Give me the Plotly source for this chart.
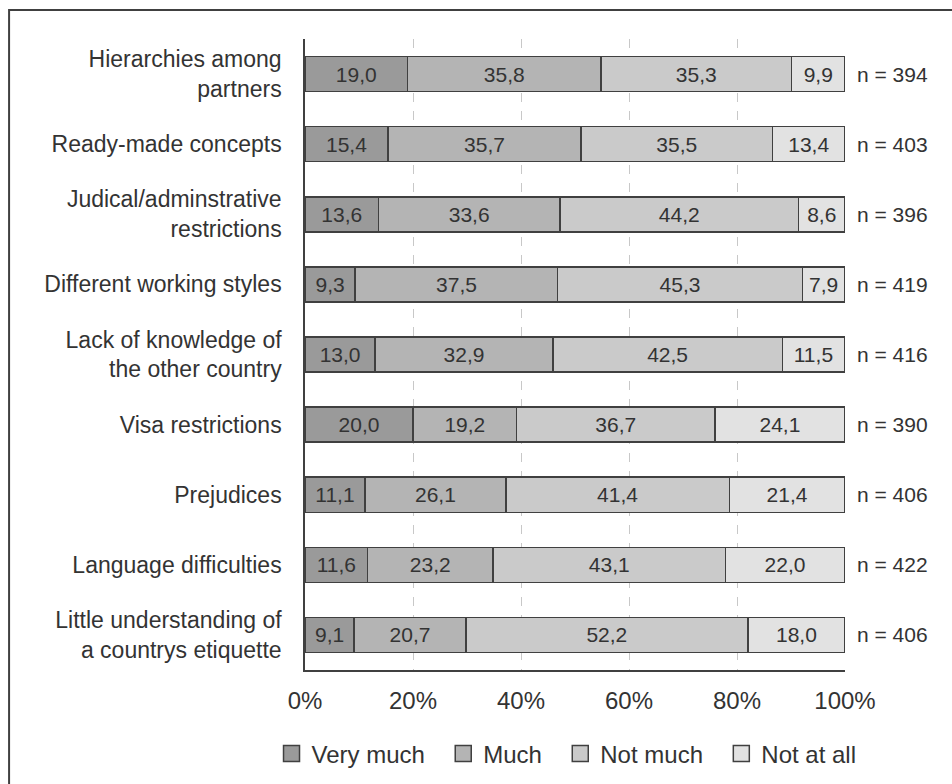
import plotly.graph_objects as go

# Survey items, listed top to bottom
categories = [
    "Hierarchies among<br>partners",
    "Ready-made concepts",
    "Judical/adminstrative<br>restrictions",
    "Different working styles",
    "Lack of knowledge of<br>the other country",
    "Visa restrictions",
    "Prejudices",
    "Language difficulties",
    "Little understanding of<br>a countrys etiquette",
]

# Share of answers (%) per response level
very_much = [19.0, 15.4, 13.6, 9.3, 13.0, 20.0, 11.1, 11.6, 9.1]
much = [35.8, 35.7, 33.6, 37.5, 32.9, 19.2, 26.1, 23.2, 20.7]
not_much = [35.3, 35.5, 44.2, 45.3, 42.5, 36.7, 41.4, 43.1, 52.2]
not_at_all = [9.9, 13.4, 8.6, 7.9, 11.5, 24.1, 21.4, 22.0, 18.0]

# Number of respondents per item
n_values = [394, 403, 396, 419, 416, 390, 406, 422, 406]

series_names = ["Very much", "Much", "Not much", "Not at all"]
series_values = [very_much, much, not_much, not_at_all]
series_colors = ["#9a9a9a", "#b4b4b4", "#cacaca", "#e2e2e2"]

tick_values = [0, 20, 40, 60, 80, 100]
tick_labels = ["0%", "20%", "40%", "60%", "80%", "100%"]

FONT = "Liberation Sans, Arial, sans-serif"
TEXT = "#333333"
EDGE = "#404040"
NBSP = "\u00a0"


def fmt(v):
    return f"{v:.1f}".replace(".", ",")


fig = go.Figure()

for name, vals, col in zip(series_names, series_values, series_colors):
    fig.add_trace(go.Bar(
        name=name,
        x=vals,
        y=categories,
        orientation="h",
        marker=dict(color=col, line=dict(color=EDGE, width=1.5)),
        text=[fmt(v) for v in vals],
        textposition="inside",
        insidetextanchor="middle",
        textangle=0,
        constraintext="none",
        textfont=dict(family=FONT, size=21, color=TEXT),
        width=0.5,
        showlegend=False,
        hoverinfo="skip",
    ))

# Legend entries with square swatches (extra spacing after all but the last)
for i, (name, col) in enumerate(zip(series_names, series_colors)):
    pad = NBSP * 2 if i < len(series_names) - 1 else ""
    fig.add_trace(go.Scatter(
        name=name + pad,
        x=[None],
        y=[None],
        mode="markers",
        marker=dict(symbol="square", size=16, color=col,
                    line=dict(color=EDGE, width=1.5)),
        showlegend=True,
    ))

# Respondent counts to the right of each bar
for cat, n in zip(categories, n_values):
    fig.add_annotation(
        x=1, xref="paper", y=cat, yref="y",
        text=f"n = {n}", showarrow=False,
        xanchor="left", xshift=10,
        font=dict(family=FONT, size=21, color=TEXT),
    )

# Outer frame
fig.add_shape(
    type="rect", xref="paper", yref="paper",
    x0=-0.548, x1=1.25, y0=-0.25, y1=1.046,
    line=dict(color=EDGE, width=2), fillcolor="rgba(0,0,0,0)",
    layer="below",
)

fig.update_layout(
    barmode="stack",
    width=952,
    height=784,
    margin=dict(l=305, r=107, t=39, b=114, autoexpand=False),
    paper_bgcolor="white",
    plot_bgcolor="white",
    font=dict(family=FONT, color=TEXT),
    legend=dict(
        orientation="h",
        x=-0.062, xanchor="left",
        y=-0.133, yanchor="middle",
        bgcolor="rgba(0,0,0,0)",
        font=dict(family=FONT, size=24, color=TEXT),
        itemwidth=30,
        traceorder="normal",
    ),
    xaxis=dict(
        range=[0, 100],
        tickvals=tick_values,
        ticktext=tick_labels,
        tickfont=dict(family=FONT, size=24, color=TEXT),
        showgrid=True,
        gridcolor="#c8c8c8",
        griddash="dash",
        gridwidth=1,
        showline=True,
        linecolor=EDGE,
        linewidth=1.5,
        zeroline=False,
        ticks="",
        ticklabelstandoff=8,
        fixedrange=True,
    ),
    yaxis=dict(
        categoryorder="array",
        categoryarray=categories,
        autorange="reversed",
        tickfont=dict(family=FONT, size=23, color=TEXT),
        showline=True,
        linecolor=EDGE,
        linewidth=1.5,
        showgrid=False,
        ticks="",
        ticklabelstandoff=17,
        fixedrange=True,
    ),
)

fig.write_html("out.html")
